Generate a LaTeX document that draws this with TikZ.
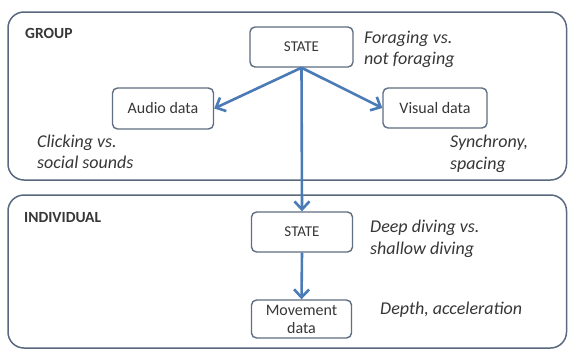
\documentclass[tikz,border=0pt]{standalone}
\usepackage{fontspec}
\setmainfont{Carlito}
\usetikzlibrary{arrows.meta}
\definecolor{boxline}{RGB}{95,110,130}
\definecolor{frameline}{RGB}{90,105,125}
\definecolor{arrowblue}{RGB}{74,123,183}
\definecolor{txt}{RGB}{55,55,55}
\begin{document}
\begin{tikzpicture}[x=1pt,y=-1pt,
  frame/.style={draw=frameline,line width=1.5pt,rounded corners=16pt},
  databox/.style={draw=boxline,line width=1.4pt,rounded corners=5pt,fill=white,
    text=txt,align=center,inner sep=0pt,font=\fontsize{16}{18}\selectfont},
  title/.style={anchor=west,inner sep=0pt,text=txt,font=\bfseries\fontsize{15.5}{18}\selectfont},
  note/.style={anchor=west,inner sep=0pt,text=txt,align=left,font=\itshape\fontsize{18}{21.5}\selectfont},
  link/.style={draw=arrowblue,line width=2.6pt,-{Straight Barb[length=8pt,width=15pt]}}]
\useasboundingbox (0,0) rectangle (569,351);
\fill[white] (0,0) rectangle (569,351);
% frames
\draw[frame] (8,12) rectangle (566.5,180);
\draw[frame] (8,195) rectangle (566.5,348);
\node[title] (group) at (25,33) {GROUP};
\node[title] (indiv) at (24,217.5) {INDIVIDUAL};
% boxes
\node[databox,minimum width=103pt,minimum height=40pt,font=\fontsize{15}{18}\selectfont] (stateG) at (301.5,47) {STATE};
\node[databox,minimum width=101pt,minimum height=41pt] (audio) at (163,108.5) {Audio data};
\node[databox,minimum width=104pt,minimum height=40pt] (visual) at (435,108) {Visual data};
\node[databox,minimum width=101pt,minimum height=40pt,font=\fontsize{15}{18}\selectfont] (stateI) at (302,232) {STATE};
\node[databox,minimum width=100pt,minimum height=38pt] (move) at (301.5,319) {Movement\\data};
% notes
\node[note] (nForage) at (364,49.5) {Foraging vs.\\not foraging};
\node[note] (nClick) at (37,152) {Clicking vs.\\social sounds};
\node[note] (nSync) at (450,154) {Synchrony,\\spacing};
\node[note] (nDeep) at (370,239) {Deep diving vs.\\shallow diving};
\node[note] (nDepth) at (380,310) {Depth, acceleration};
% arrows
\draw[link] (stateG.south) -- (audio.east);
\draw[link] (stateG.south) -- (visual.west);
\draw[link] (stateG.south) -- (stateI.north);
\draw[link] (stateI.south) -- (move.north);
\end{tikzpicture}
\end{document}
